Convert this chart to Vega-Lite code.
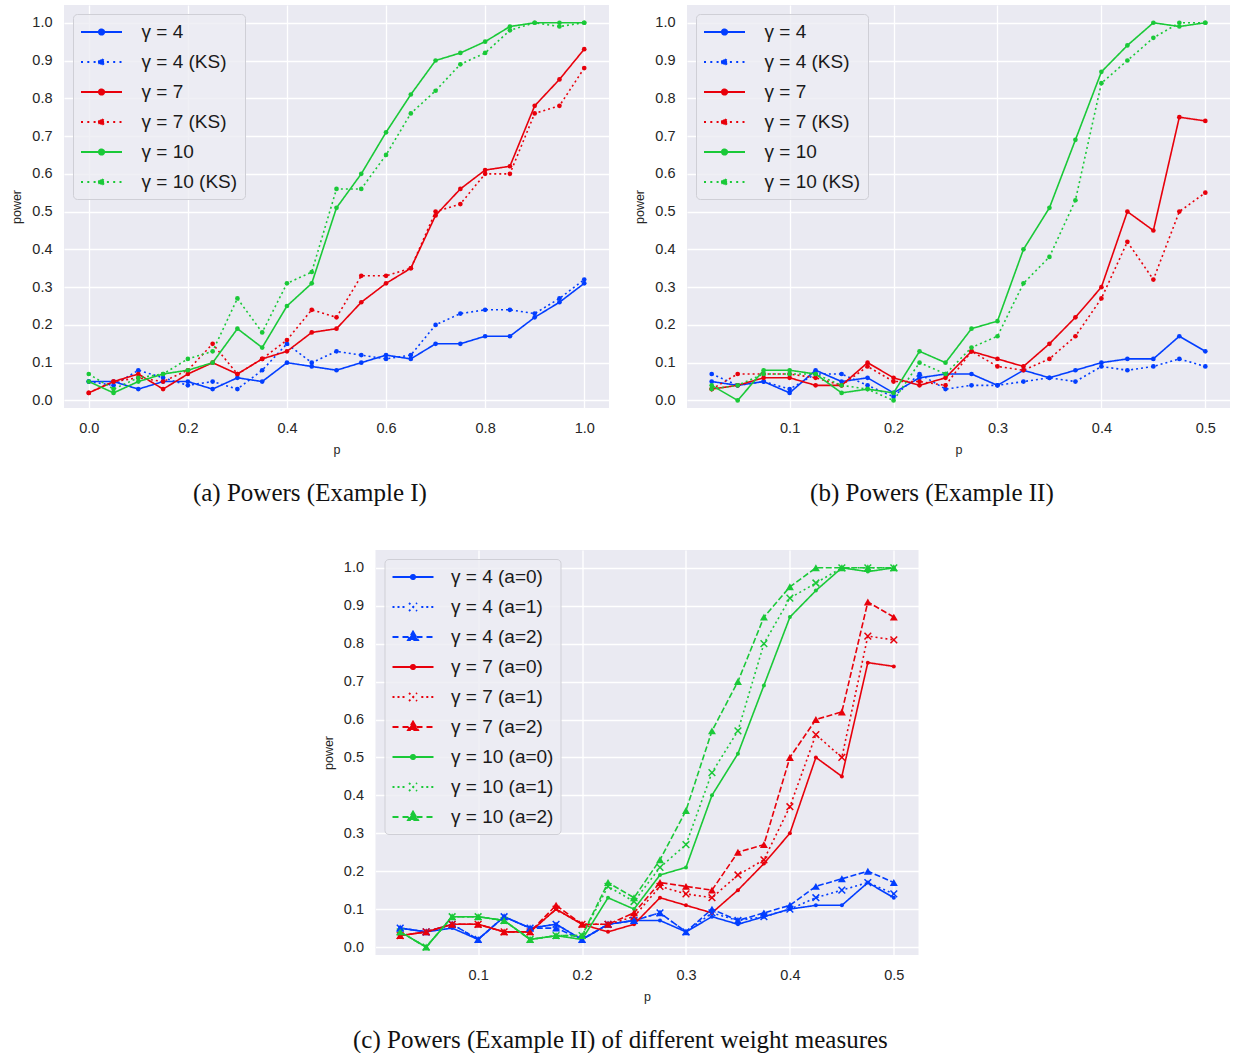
{
  "$schema": "https://vega.github.io/schema/vega-lite/v6.json",
  "padding": {"left": 10, "top": 5, "right": 0, "bottom": 0},
  "background": "white",
  "datasets": {
    "a": [
      {"p":0,"power":0.05,"series":"γ = 4"},{"p":0.05,"power":0.05,"series":"γ = 4"},{"p":0.1,"power":0.03,"series":"γ = 4"},{"p":0.15,"power":0.05,"series":"γ = 4"},{"p":0.2,"power":0.05,"series":"γ = 4"},{"p":0.25,"power":0.03,"series":"γ = 4"},{"p":0.3,"power":0.06,"series":"γ = 4"},{"p":0.35,"power":0.05,"series":"γ = 4"},{"p":0.4,"power":0.10,"series":"γ = 4"},{"p":0.45,"power":0.09,"series":"γ = 4"},{"p":0.5,"power":0.08,"series":"γ = 4"},{"p":0.55,"power":0.10,"series":"γ = 4"},{"p":0.6,"power":0.12,"series":"γ = 4"},{"p":0.65,"power":0.11,"series":"γ = 4"},{"p":0.7,"power":0.15,"series":"γ = 4"},{"p":0.75,"power":0.15,"series":"γ = 4"},{"p":0.8,"power":0.17,"series":"γ = 4"},{"p":0.85,"power":0.17,"series":"γ = 4"},{"p":0.9,"power":0.22,"series":"γ = 4"},{"p":0.95,"power":0.26,"series":"γ = 4"},{"p":1,"power":0.31,"series":"γ = 4"},
      {"p":0,"power":0.05,"series":"γ = 4 (KS)"},{"p":0.05,"power":0.04,"series":"γ = 4 (KS)"},{"p":0.1,"power":0.08,"series":"γ = 4 (KS)"},{"p":0.15,"power":0.06,"series":"γ = 4 (KS)"},{"p":0.2,"power":0.04,"series":"γ = 4 (KS)"},{"p":0.25,"power":0.05,"series":"γ = 4 (KS)"},{"p":0.3,"power":0.03,"series":"γ = 4 (KS)"},{"p":0.35,"power":0.08,"series":"γ = 4 (KS)"},{"p":0.4,"power":0.15,"series":"γ = 4 (KS)"},{"p":0.45,"power":0.10,"series":"γ = 4 (KS)"},{"p":0.5,"power":0.13,"series":"γ = 4 (KS)"},{"p":0.55,"power":0.12,"series":"γ = 4 (KS)"},{"p":0.6,"power":0.11,"series":"γ = 4 (KS)"},{"p":0.65,"power":0.12,"series":"γ = 4 (KS)"},{"p":0.7,"power":0.20,"series":"γ = 4 (KS)"},{"p":0.75,"power":0.23,"series":"γ = 4 (KS)"},{"p":0.8,"power":0.24,"series":"γ = 4 (KS)"},{"p":0.85,"power":0.24,"series":"γ = 4 (KS)"},{"p":0.9,"power":0.23,"series":"γ = 4 (KS)"},{"p":0.95,"power":0.27,"series":"γ = 4 (KS)"},{"p":1,"power":0.32,"series":"γ = 4 (KS)"},
      {"p":0,"power":0.02,"series":"γ = 7"},{"p":0.05,"power":0.05,"series":"γ = 7"},{"p":0.1,"power":0.07,"series":"γ = 7"},{"p":0.15,"power":0.03,"series":"γ = 7"},{"p":0.2,"power":0.07,"series":"γ = 7"},{"p":0.25,"power":0.10,"series":"γ = 7"},{"p":0.3,"power":0.07,"series":"γ = 7"},{"p":0.35,"power":0.11,"series":"γ = 7"},{"p":0.4,"power":0.13,"series":"γ = 7"},{"p":0.45,"power":0.18,"series":"γ = 7"},{"p":0.5,"power":0.19,"series":"γ = 7"},{"p":0.55,"power":0.26,"series":"γ = 7"},{"p":0.6,"power":0.31,"series":"γ = 7"},{"p":0.65,"power":0.35,"series":"γ = 7"},{"p":0.7,"power":0.49,"series":"γ = 7"},{"p":0.75,"power":0.56,"series":"γ = 7"},{"p":0.8,"power":0.61,"series":"γ = 7"},{"p":0.85,"power":0.62,"series":"γ = 7"},{"p":0.9,"power":0.78,"series":"γ = 7"},{"p":0.95,"power":0.85,"series":"γ = 7"},{"p":1,"power":0.93,"series":"γ = 7"},
      {"p":0,"power":0.02,"series":"γ = 7 (KS)"},{"p":0.05,"power":0.05,"series":"γ = 7 (KS)"},{"p":0.1,"power":0.06,"series":"γ = 7 (KS)"},{"p":0.15,"power":0.05,"series":"γ = 7 (KS)"},{"p":0.2,"power":0.08,"series":"γ = 7 (KS)"},{"p":0.25,"power":0.15,"series":"γ = 7 (KS)"},{"p":0.3,"power":0.07,"series":"γ = 7 (KS)"},{"p":0.35,"power":0.11,"series":"γ = 7 (KS)"},{"p":0.4,"power":0.16,"series":"γ = 7 (KS)"},{"p":0.45,"power":0.24,"series":"γ = 7 (KS)"},{"p":0.5,"power":0.22,"series":"γ = 7 (KS)"},{"p":0.55,"power":0.33,"series":"γ = 7 (KS)"},{"p":0.6,"power":0.33,"series":"γ = 7 (KS)"},{"p":0.65,"power":0.35,"series":"γ = 7 (KS)"},{"p":0.7,"power":0.50,"series":"γ = 7 (KS)"},{"p":0.75,"power":0.52,"series":"γ = 7 (KS)"},{"p":0.8,"power":0.60,"series":"γ = 7 (KS)"},{"p":0.85,"power":0.60,"series":"γ = 7 (KS)"},{"p":0.9,"power":0.76,"series":"γ = 7 (KS)"},{"p":0.95,"power":0.78,"series":"γ = 7 (KS)"},{"p":1,"power":0.88,"series":"γ = 7 (KS)"},
      {"p":0,"power":0.05,"series":"γ = 10"},{"p":0.05,"power":0.02,"series":"γ = 10"},{"p":0.1,"power":0.05,"series":"γ = 10"},{"p":0.15,"power":0.07,"series":"γ = 10"},{"p":0.2,"power":0.08,"series":"γ = 10"},{"p":0.25,"power":0.10,"series":"γ = 10"},{"p":0.3,"power":0.19,"series":"γ = 10"},{"p":0.35,"power":0.14,"series":"γ = 10"},{"p":0.4,"power":0.25,"series":"γ = 10"},{"p":0.45,"power":0.31,"series":"γ = 10"},{"p":0.5,"power":0.51,"series":"γ = 10"},{"p":0.55,"power":0.60,"series":"γ = 10"},{"p":0.6,"power":0.71,"series":"γ = 10"},{"p":0.65,"power":0.81,"series":"γ = 10"},{"p":0.7,"power":0.90,"series":"γ = 10"},{"p":0.75,"power":0.92,"series":"γ = 10"},{"p":0.8,"power":0.95,"series":"γ = 10"},{"p":0.85,"power":0.99,"series":"γ = 10"},{"p":0.9,"power":1.0,"series":"γ = 10"},{"p":0.95,"power":1.0,"series":"γ = 10"},{"p":1,"power":1.0,"series":"γ = 10"},
      {"p":0,"power":0.07,"series":"γ = 10 (KS)"},{"p":0.05,"power":0.03,"series":"γ = 10 (KS)"},{"p":0.1,"power":0.06,"series":"γ = 10 (KS)"},{"p":0.15,"power":0.07,"series":"γ = 10 (KS)"},{"p":0.2,"power":0.11,"series":"γ = 10 (KS)"},{"p":0.25,"power":0.13,"series":"γ = 10 (KS)"},{"p":0.3,"power":0.27,"series":"γ = 10 (KS)"},{"p":0.35,"power":0.18,"series":"γ = 10 (KS)"},{"p":0.4,"power":0.31,"series":"γ = 10 (KS)"},{"p":0.45,"power":0.34,"series":"γ = 10 (KS)"},{"p":0.5,"power":0.56,"series":"γ = 10 (KS)"},{"p":0.55,"power":0.56,"series":"γ = 10 (KS)"},{"p":0.6,"power":0.65,"series":"γ = 10 (KS)"},{"p":0.65,"power":0.76,"series":"γ = 10 (KS)"},{"p":0.7,"power":0.82,"series":"γ = 10 (KS)"},{"p":0.75,"power":0.89,"series":"γ = 10 (KS)"},{"p":0.8,"power":0.92,"series":"γ = 10 (KS)"},{"p":0.85,"power":0.98,"series":"γ = 10 (KS)"},{"p":0.9,"power":1.0,"series":"γ = 10 (KS)"},{"p":0.95,"power":0.99,"series":"γ = 10 (KS)"},{"p":1,"power":1.0,"series":"γ = 10 (KS)"}
    ],
    "b": [
      {"p":0.025,"power":0.05,"series":"γ = 4"},{"p":0.05,"power":0.04,"series":"γ = 4"},{"p":0.075,"power":0.05,"series":"γ = 4"},{"p":0.1,"power":0.02,"series":"γ = 4"},{"p":0.125,"power":0.08,"series":"γ = 4"},{"p":0.15,"power":0.05,"series":"γ = 4"},{"p":0.175,"power":0.06,"series":"γ = 4"},{"p":0.2,"power":0.02,"series":"γ = 4"},{"p":0.225,"power":0.06,"series":"γ = 4"},{"p":0.25,"power":0.07,"series":"γ = 4"},{"p":0.275,"power":0.07,"series":"γ = 4"},{"p":0.3,"power":0.04,"series":"γ = 4"},{"p":0.325,"power":0.08,"series":"γ = 4"},{"p":0.35,"power":0.06,"series":"γ = 4"},{"p":0.375,"power":0.08,"series":"γ = 4"},{"p":0.4,"power":0.10,"series":"γ = 4"},{"p":0.425,"power":0.11,"series":"γ = 4"},{"p":0.45,"power":0.11,"series":"γ = 4"},{"p":0.475,"power":0.17,"series":"γ = 4"},{"p":0.5,"power":0.13,"series":"γ = 4"},
      {"p":0.025,"power":0.07,"series":"γ = 4 (KS)"},{"p":0.05,"power":0.04,"series":"γ = 4 (KS)"},{"p":0.075,"power":0.05,"series":"γ = 4 (KS)"},{"p":0.1,"power":0.03,"series":"γ = 4 (KS)"},{"p":0.125,"power":0.07,"series":"γ = 4 (KS)"},{"p":0.15,"power":0.07,"series":"γ = 4 (KS)"},{"p":0.175,"power":0.04,"series":"γ = 4 (KS)"},{"p":0.2,"power":0.01,"series":"γ = 4 (KS)"},{"p":0.225,"power":0.07,"series":"γ = 4 (KS)"},{"p":0.25,"power":0.03,"series":"γ = 4 (KS)"},{"p":0.275,"power":0.04,"series":"γ = 4 (KS)"},{"p":0.3,"power":0.04,"series":"γ = 4 (KS)"},{"p":0.325,"power":0.05,"series":"γ = 4 (KS)"},{"p":0.35,"power":0.06,"series":"γ = 4 (KS)"},{"p":0.375,"power":0.05,"series":"γ = 4 (KS)"},{"p":0.4,"power":0.09,"series":"γ = 4 (KS)"},{"p":0.425,"power":0.08,"series":"γ = 4 (KS)"},{"p":0.45,"power":0.09,"series":"γ = 4 (KS)"},{"p":0.475,"power":0.11,"series":"γ = 4 (KS)"},{"p":0.5,"power":0.09,"series":"γ = 4 (KS)"},
      {"p":0.025,"power":0.03,"series":"γ = 7"},{"p":0.05,"power":0.04,"series":"γ = 7"},{"p":0.075,"power":0.06,"series":"γ = 7"},{"p":0.1,"power":0.06,"series":"γ = 7"},{"p":0.125,"power":0.04,"series":"γ = 7"},{"p":0.15,"power":0.04,"series":"γ = 7"},{"p":0.175,"power":0.10,"series":"γ = 7"},{"p":0.2,"power":0.06,"series":"γ = 7"},{"p":0.225,"power":0.04,"series":"γ = 7"},{"p":0.25,"power":0.06,"series":"γ = 7"},{"p":0.275,"power":0.13,"series":"γ = 7"},{"p":0.3,"power":0.11,"series":"γ = 7"},{"p":0.325,"power":0.09,"series":"γ = 7"},{"p":0.35,"power":0.15,"series":"γ = 7"},{"p":0.375,"power":0.22,"series":"γ = 7"},{"p":0.4,"power":0.30,"series":"γ = 7"},{"p":0.425,"power":0.50,"series":"γ = 7"},{"p":0.45,"power":0.45,"series":"γ = 7"},{"p":0.475,"power":0.75,"series":"γ = 7"},{"p":0.5,"power":0.74,"series":"γ = 7"},
      {"p":0.025,"power":0.03,"series":"γ = 7 (KS)"},{"p":0.05,"power":0.07,"series":"γ = 7 (KS)"},{"p":0.075,"power":0.07,"series":"γ = 7 (KS)"},{"p":0.1,"power":0.07,"series":"γ = 7 (KS)"},{"p":0.125,"power":0.06,"series":"γ = 7 (KS)"},{"p":0.15,"power":0.04,"series":"γ = 7 (KS)"},{"p":0.175,"power":0.09,"series":"γ = 7 (KS)"},{"p":0.2,"power":0.05,"series":"γ = 7 (KS)"},{"p":0.225,"power":0.05,"series":"γ = 7 (KS)"},{"p":0.25,"power":0.04,"series":"γ = 7 (KS)"},{"p":0.275,"power":0.13,"series":"γ = 7 (KS)"},{"p":0.3,"power":0.09,"series":"γ = 7 (KS)"},{"p":0.325,"power":0.08,"series":"γ = 7 (KS)"},{"p":0.35,"power":0.11,"series":"γ = 7 (KS)"},{"p":0.375,"power":0.17,"series":"γ = 7 (KS)"},{"p":0.4,"power":0.27,"series":"γ = 7 (KS)"},{"p":0.425,"power":0.42,"series":"γ = 7 (KS)"},{"p":0.45,"power":0.32,"series":"γ = 7 (KS)"},{"p":0.475,"power":0.50,"series":"γ = 7 (KS)"},{"p":0.5,"power":0.55,"series":"γ = 7 (KS)"},
      {"p":0.025,"power":0.04,"series":"γ = 10"},{"p":0.05,"power":0.00,"series":"γ = 10"},{"p":0.075,"power":0.08,"series":"γ = 10"},{"p":0.1,"power":0.08,"series":"γ = 10"},{"p":0.125,"power":0.07,"series":"γ = 10"},{"p":0.15,"power":0.02,"series":"γ = 10"},{"p":0.175,"power":0.03,"series":"γ = 10"},{"p":0.2,"power":0.02,"series":"γ = 10"},{"p":0.225,"power":0.13,"series":"γ = 10"},{"p":0.25,"power":0.10,"series":"γ = 10"},{"p":0.275,"power":0.19,"series":"γ = 10"},{"p":0.3,"power":0.21,"series":"γ = 10"},{"p":0.325,"power":0.40,"series":"γ = 10"},{"p":0.35,"power":0.51,"series":"γ = 10"},{"p":0.375,"power":0.69,"series":"γ = 10"},{"p":0.4,"power":0.87,"series":"γ = 10"},{"p":0.425,"power":0.94,"series":"γ = 10"},{"p":0.45,"power":1.0,"series":"γ = 10"},{"p":0.475,"power":0.99,"series":"γ = 10"},{"p":0.5,"power":1.0,"series":"γ = 10"},
      {"p":0.025,"power":0.03,"series":"γ = 10 (KS)"},{"p":0.05,"power":0.04,"series":"γ = 10 (KS)"},{"p":0.075,"power":0.07,"series":"γ = 10 (KS)"},{"p":0.1,"power":0.07,"series":"γ = 10 (KS)"},{"p":0.125,"power":0.07,"series":"γ = 10 (KS)"},{"p":0.15,"power":0.04,"series":"γ = 10 (KS)"},{"p":0.175,"power":0.03,"series":"γ = 10 (KS)"},{"p":0.2,"power":0.00,"series":"γ = 10 (KS)"},{"p":0.225,"power":0.10,"series":"γ = 10 (KS)"},{"p":0.25,"power":0.07,"series":"γ = 10 (KS)"},{"p":0.275,"power":0.14,"series":"γ = 10 (KS)"},{"p":0.3,"power":0.17,"series":"γ = 10 (KS)"},{"p":0.325,"power":0.31,"series":"γ = 10 (KS)"},{"p":0.35,"power":0.38,"series":"γ = 10 (KS)"},{"p":0.375,"power":0.53,"series":"γ = 10 (KS)"},{"p":0.4,"power":0.84,"series":"γ = 10 (KS)"},{"p":0.425,"power":0.90,"series":"γ = 10 (KS)"},{"p":0.45,"power":0.96,"series":"γ = 10 (KS)"},{"p":0.475,"power":1.0,"series":"γ = 10 (KS)"},{"p":0.5,"power":1.0,"series":"γ = 10 (KS)"}
    ],
    "c": [
      {"p":0.025,"power":0.05,"series":"γ = 4 (a=0)"},{"p":0.05,"power":0.04,"series":"γ = 4 (a=0)"},{"p":0.075,"power":0.05,"series":"γ = 4 (a=0)"},{"p":0.1,"power":0.02,"series":"γ = 4 (a=0)"},{"p":0.125,"power":0.08,"series":"γ = 4 (a=0)"},{"p":0.15,"power":0.05,"series":"γ = 4 (a=0)"},{"p":0.175,"power":0.06,"series":"γ = 4 (a=0)"},{"p":0.2,"power":0.02,"series":"γ = 4 (a=0)"},{"p":0.225,"power":0.06,"series":"γ = 4 (a=0)"},{"p":0.25,"power":0.07,"series":"γ = 4 (a=0)"},{"p":0.275,"power":0.07,"series":"γ = 4 (a=0)"},{"p":0.3,"power":0.04,"series":"γ = 4 (a=0)"},{"p":0.325,"power":0.08,"series":"γ = 4 (a=0)"},{"p":0.35,"power":0.06,"series":"γ = 4 (a=0)"},{"p":0.375,"power":0.08,"series":"γ = 4 (a=0)"},{"p":0.4,"power":0.10,"series":"γ = 4 (a=0)"},{"p":0.425,"power":0.11,"series":"γ = 4 (a=0)"},{"p":0.45,"power":0.11,"series":"γ = 4 (a=0)"},{"p":0.475,"power":0.17,"series":"γ = 4 (a=0)"},{"p":0.5,"power":0.13,"series":"γ = 4 (a=0)"},
      {"p":0.025,"power":0.05,"series":"γ = 4 (a=1)"},{"p":0.05,"power":0.04,"series":"γ = 4 (a=1)"},{"p":0.075,"power":0.06,"series":"γ = 4 (a=1)"},{"p":0.1,"power":0.02,"series":"γ = 4 (a=1)"},{"p":0.125,"power":0.08,"series":"γ = 4 (a=1)"},{"p":0.15,"power":0.05,"series":"γ = 4 (a=1)"},{"p":0.175,"power":0.06,"series":"γ = 4 (a=1)"},{"p":0.2,"power":0.02,"series":"γ = 4 (a=1)"},{"p":0.225,"power":0.06,"series":"γ = 4 (a=1)"},{"p":0.25,"power":0.07,"series":"γ = 4 (a=1)"},{"p":0.275,"power":0.09,"series":"γ = 4 (a=1)"},{"p":0.3,"power":0.04,"series":"γ = 4 (a=1)"},{"p":0.325,"power":0.09,"series":"γ = 4 (a=1)"},{"p":0.35,"power":0.07,"series":"γ = 4 (a=1)"},{"p":0.375,"power":0.08,"series":"γ = 4 (a=1)"},{"p":0.4,"power":0.10,"series":"γ = 4 (a=1)"},{"p":0.425,"power":0.13,"series":"γ = 4 (a=1)"},{"p":0.45,"power":0.15,"series":"γ = 4 (a=1)"},{"p":0.475,"power":0.17,"series":"γ = 4 (a=1)"},{"p":0.5,"power":0.14,"series":"γ = 4 (a=1)"},
      {"p":0.025,"power":0.05,"series":"γ = 4 (a=2)"},{"p":0.05,"power":0.04,"series":"γ = 4 (a=2)"},{"p":0.075,"power":0.06,"series":"γ = 4 (a=2)"},{"p":0.1,"power":0.02,"series":"γ = 4 (a=2)"},{"p":0.125,"power":0.08,"series":"γ = 4 (a=2)"},{"p":0.15,"power":0.05,"series":"γ = 4 (a=2)"},{"p":0.175,"power":0.05,"series":"γ = 4 (a=2)"},{"p":0.2,"power":0.02,"series":"γ = 4 (a=2)"},{"p":0.225,"power":0.06,"series":"γ = 4 (a=2)"},{"p":0.25,"power":0.07,"series":"γ = 4 (a=2)"},{"p":0.275,"power":0.09,"series":"γ = 4 (a=2)"},{"p":0.3,"power":0.04,"series":"γ = 4 (a=2)"},{"p":0.325,"power":0.10,"series":"γ = 4 (a=2)"},{"p":0.35,"power":0.07,"series":"γ = 4 (a=2)"},{"p":0.375,"power":0.09,"series":"γ = 4 (a=2)"},{"p":0.4,"power":0.11,"series":"γ = 4 (a=2)"},{"p":0.425,"power":0.16,"series":"γ = 4 (a=2)"},{"p":0.45,"power":0.18,"series":"γ = 4 (a=2)"},{"p":0.475,"power":0.20,"series":"γ = 4 (a=2)"},{"p":0.5,"power":0.17,"series":"γ = 4 (a=2)"},
      {"p":0.025,"power":0.03,"series":"γ = 7 (a=0)"},{"p":0.05,"power":0.04,"series":"γ = 7 (a=0)"},{"p":0.075,"power":0.06,"series":"γ = 7 (a=0)"},{"p":0.1,"power":0.06,"series":"γ = 7 (a=0)"},{"p":0.125,"power":0.04,"series":"γ = 7 (a=0)"},{"p":0.15,"power":0.04,"series":"γ = 7 (a=0)"},{"p":0.175,"power":0.10,"series":"γ = 7 (a=0)"},{"p":0.2,"power":0.06,"series":"γ = 7 (a=0)"},{"p":0.225,"power":0.04,"series":"γ = 7 (a=0)"},{"p":0.25,"power":0.06,"series":"γ = 7 (a=0)"},{"p":0.275,"power":0.13,"series":"γ = 7 (a=0)"},{"p":0.3,"power":0.11,"series":"γ = 7 (a=0)"},{"p":0.325,"power":0.09,"series":"γ = 7 (a=0)"},{"p":0.35,"power":0.15,"series":"γ = 7 (a=0)"},{"p":0.375,"power":0.22,"series":"γ = 7 (a=0)"},{"p":0.4,"power":0.30,"series":"γ = 7 (a=0)"},{"p":0.425,"power":0.50,"series":"γ = 7 (a=0)"},{"p":0.45,"power":0.45,"series":"γ = 7 (a=0)"},{"p":0.475,"power":0.75,"series":"γ = 7 (a=0)"},{"p":0.5,"power":0.74,"series":"γ = 7 (a=0)"},
      {"p":0.025,"power":0.03,"series":"γ = 7 (a=1)"},{"p":0.05,"power":0.04,"series":"γ = 7 (a=1)"},{"p":0.075,"power":0.06,"series":"γ = 7 (a=1)"},{"p":0.1,"power":0.06,"series":"γ = 7 (a=1)"},{"p":0.125,"power":0.04,"series":"γ = 7 (a=1)"},{"p":0.15,"power":0.04,"series":"γ = 7 (a=1)"},{"p":0.175,"power":0.10,"series":"γ = 7 (a=1)"},{"p":0.2,"power":0.06,"series":"γ = 7 (a=1)"},{"p":0.225,"power":0.06,"series":"γ = 7 (a=1)"},{"p":0.25,"power":0.08,"series":"γ = 7 (a=1)"},{"p":0.275,"power":0.16,"series":"γ = 7 (a=1)"},{"p":0.3,"power":0.14,"series":"γ = 7 (a=1)"},{"p":0.325,"power":0.13,"series":"γ = 7 (a=1)"},{"p":0.35,"power":0.19,"series":"γ = 7 (a=1)"},{"p":0.375,"power":0.23,"series":"γ = 7 (a=1)"},{"p":0.4,"power":0.37,"series":"γ = 7 (a=1)"},{"p":0.425,"power":0.56,"series":"γ = 7 (a=1)"},{"p":0.45,"power":0.50,"series":"γ = 7 (a=1)"},{"p":0.475,"power":0.82,"series":"γ = 7 (a=1)"},{"p":0.5,"power":0.81,"series":"γ = 7 (a=1)"},
      {"p":0.025,"power":0.03,"series":"γ = 7 (a=2)"},{"p":0.05,"power":0.04,"series":"γ = 7 (a=2)"},{"p":0.075,"power":0.06,"series":"γ = 7 (a=2)"},{"p":0.1,"power":0.06,"series":"γ = 7 (a=2)"},{"p":0.125,"power":0.04,"series":"γ = 7 (a=2)"},{"p":0.15,"power":0.04,"series":"γ = 7 (a=2)"},{"p":0.175,"power":0.11,"series":"γ = 7 (a=2)"},{"p":0.2,"power":0.06,"series":"γ = 7 (a=2)"},{"p":0.225,"power":0.06,"series":"γ = 7 (a=2)"},{"p":0.25,"power":0.09,"series":"γ = 7 (a=2)"},{"p":0.275,"power":0.17,"series":"γ = 7 (a=2)"},{"p":0.3,"power":0.16,"series":"γ = 7 (a=2)"},{"p":0.325,"power":0.15,"series":"γ = 7 (a=2)"},{"p":0.35,"power":0.25,"series":"γ = 7 (a=2)"},{"p":0.375,"power":0.27,"series":"γ = 7 (a=2)"},{"p":0.4,"power":0.50,"series":"γ = 7 (a=2)"},{"p":0.425,"power":0.60,"series":"γ = 7 (a=2)"},{"p":0.45,"power":0.62,"series":"γ = 7 (a=2)"},{"p":0.475,"power":0.91,"series":"γ = 7 (a=2)"},{"p":0.5,"power":0.87,"series":"γ = 7 (a=2)"},
      {"p":0.025,"power":0.04,"series":"γ = 10 (a=0)"},{"p":0.05,"power":0.00,"series":"γ = 10 (a=0)"},{"p":0.075,"power":0.08,"series":"γ = 10 (a=0)"},{"p":0.1,"power":0.08,"series":"γ = 10 (a=0)"},{"p":0.125,"power":0.07,"series":"γ = 10 (a=0)"},{"p":0.15,"power":0.02,"series":"γ = 10 (a=0)"},{"p":0.175,"power":0.03,"series":"γ = 10 (a=0)"},{"p":0.2,"power":0.02,"series":"γ = 10 (a=0)"},{"p":0.225,"power":0.13,"series":"γ = 10 (a=0)"},{"p":0.25,"power":0.10,"series":"γ = 10 (a=0)"},{"p":0.275,"power":0.19,"series":"γ = 10 (a=0)"},{"p":0.3,"power":0.21,"series":"γ = 10 (a=0)"},{"p":0.325,"power":0.40,"series":"γ = 10 (a=0)"},{"p":0.35,"power":0.51,"series":"γ = 10 (a=0)"},{"p":0.375,"power":0.69,"series":"γ = 10 (a=0)"},{"p":0.4,"power":0.87,"series":"γ = 10 (a=0)"},{"p":0.425,"power":0.94,"series":"γ = 10 (a=0)"},{"p":0.45,"power":1.0,"series":"γ = 10 (a=0)"},{"p":0.475,"power":0.99,"series":"γ = 10 (a=0)"},{"p":0.5,"power":1.0,"series":"γ = 10 (a=0)"},
      {"p":0.025,"power":0.04,"series":"γ = 10 (a=1)"},{"p":0.05,"power":0.00,"series":"γ = 10 (a=1)"},{"p":0.075,"power":0.08,"series":"γ = 10 (a=1)"},{"p":0.1,"power":0.08,"series":"γ = 10 (a=1)"},{"p":0.125,"power":0.07,"series":"γ = 10 (a=1)"},{"p":0.15,"power":0.02,"series":"γ = 10 (a=1)"},{"p":0.175,"power":0.03,"series":"γ = 10 (a=1)"},{"p":0.2,"power":0.03,"series":"γ = 10 (a=1)"},{"p":0.225,"power":0.16,"series":"γ = 10 (a=1)"},{"p":0.25,"power":0.12,"series":"γ = 10 (a=1)"},{"p":0.275,"power":0.21,"series":"γ = 10 (a=1)"},{"p":0.3,"power":0.27,"series":"γ = 10 (a=1)"},{"p":0.325,"power":0.46,"series":"γ = 10 (a=1)"},{"p":0.35,"power":0.57,"series":"γ = 10 (a=1)"},{"p":0.375,"power":0.80,"series":"γ = 10 (a=1)"},{"p":0.4,"power":0.92,"series":"γ = 10 (a=1)"},{"p":0.425,"power":0.96,"series":"γ = 10 (a=1)"},{"p":0.45,"power":1.0,"series":"γ = 10 (a=1)"},{"p":0.475,"power":1.0,"series":"γ = 10 (a=1)"},{"p":0.5,"power":1.0,"series":"γ = 10 (a=1)"},
      {"p":0.025,"power":0.04,"series":"γ = 10 (a=2)"},{"p":0.05,"power":0.00,"series":"γ = 10 (a=2)"},{"p":0.075,"power":0.08,"series":"γ = 10 (a=2)"},{"p":0.1,"power":0.08,"series":"γ = 10 (a=2)"},{"p":0.125,"power":0.07,"series":"γ = 10 (a=2)"},{"p":0.15,"power":0.02,"series":"γ = 10 (a=2)"},{"p":0.175,"power":0.03,"series":"γ = 10 (a=2)"},{"p":0.2,"power":0.03,"series":"γ = 10 (a=2)"},{"p":0.225,"power":0.17,"series":"γ = 10 (a=2)"},{"p":0.25,"power":0.13,"series":"γ = 10 (a=2)"},{"p":0.275,"power":0.23,"series":"γ = 10 (a=2)"},{"p":0.3,"power":0.36,"series":"γ = 10 (a=2)"},{"p":0.325,"power":0.57,"series":"γ = 10 (a=2)"},{"p":0.35,"power":0.70,"series":"γ = 10 (a=2)"},{"p":0.375,"power":0.87,"series":"γ = 10 (a=2)"},{"p":0.4,"power":0.95,"series":"γ = 10 (a=2)"},{"p":0.425,"power":1.0,"series":"γ = 10 (a=2)"},{"p":0.45,"power":1.0,"series":"γ = 10 (a=2)"},{"p":0.475,"power":1.0,"series":"γ = 10 (a=2)"},{"p":0.5,"power":1.0,"series":"γ = 10 (a=2)"}
    ]
  },
  "vconcat": [
    {
      "hconcat": [
        {
          "width": 545, "height": 403,
          "data": {"name": "a"},
          "title": {"text": "(a) Powers (Example I)"},
          "encoding": {
            "x": {"field": "p", "type": "quantitative", "title": "p", "scale": {"domain": [-0.05, 1.05], "nice": false, "zero": false}, "axis": {"values": [0, 0.2, 0.4, 0.6, 0.8, 1.0], "format": ".1f"}},
            "y": {"field": "power", "type": "quantitative", "title": "power", "scale": {"domain": [-0.02, 1.047], "nice": false, "zero": false}, "axis": {"values": [0, 0.1, 0.2, 0.3, 0.4, 0.5, 0.6, 0.7, 0.8, 0.9, 1.0], "format": ".1f"}},
            "color": {"field": "series", "type": "nominal", "scale": {"domain": ["γ = 4", "γ = 4 (KS)", "γ = 7", "γ = 7 (KS)", "γ = 10", "γ = 10 (KS)"], "range": ["#023eff", "#023eff", "#e8000b", "#e8000b", "#1ac938", "#1ac938"]},
              "legend": {"labelOffset": 29, "encode": {"symbols": {"update": {
                "shape": {"signal": "indexof(datum.value,'KS')>=0 ? 'M-2.05,0h0.25M-1.42,0h0.25M-0.79,0h0.25M0.54,0h0.25M1.17,0h0.25M1.8,0h0.25M-0.27,0A0.27,0.27,0,1,0,0.27,0A0.27,0.27,0,1,0,-0.27,0Z' : 'M-2.05,0L2.05,0M-0.27,0A0.27,0.27,0,1,0,0.27,0A0.27,0.27,0,1,0,-0.27,0Z'"},
                "fill": {"signal": "indexof(datum.value,'= 4')>=0 ? '#023eff' : indexof(datum.value,'= 7')>=0 ? '#e8000b' : '#1ac938'"},
                "stroke": {"signal": "indexof(datum.value,'= 4')>=0 ? '#023eff' : indexof(datum.value,'= 7')>=0 ? '#e8000b' : '#1ac938'"},
                "strokeDash": {"value": []}, "strokeWidth": {"value": 1.8}, "opacity": {"value": 1}}}}}}
          },
          "layer": [
            {"mark": {"type": "line", "strokeWidth": 1.6}, "encoding": {"strokeDash": {"field": "series", "type": "nominal", "scale": {"domain": ["γ = 4", "γ = 4 (KS)", "γ = 7", "γ = 7 (KS)", "γ = 10", "γ = 10 (KS)"], "range": [[1, 0], [2, 3], [1, 0], [2, 3], [1, 0], [2, 3]]}, "legend": null}}},
            {"mark": {"type": "point", "filled": true, "shape": "circle", "size": 22, "opacity": 1}}
          ]
        },
        {
          "width": 543, "height": 403,
          "data": {"name": "b"},
          "title": {"text": "(b) Powers (Example II)"},
          "encoding": {
            "x": {"field": "p", "type": "quantitative", "title": "p", "scale": {"domain": [0.00125, 0.52375], "nice": false, "zero": false}, "axis": {"values": [0.1, 0.2, 0.3, 0.4, 0.5], "format": ".1f"}},
            "y": {"field": "power", "type": "quantitative", "title": "power", "scale": {"domain": [-0.02, 1.047], "nice": false, "zero": false}, "axis": {"values": [0, 0.1, 0.2, 0.3, 0.4, 0.5, 0.6, 0.7, 0.8, 0.9, 1.0], "format": ".1f"}},
            "color": {"field": "series", "type": "nominal", "scale": {"domain": ["γ = 4", "γ = 4 (KS)", "γ = 7", "γ = 7 (KS)", "γ = 10", "γ = 10 (KS)"], "range": ["#023eff", "#023eff", "#e8000b", "#e8000b", "#1ac938", "#1ac938"]},
              "legend": {"labelOffset": 29, "encode": {"symbols": {"update": {
                "shape": {"signal": "indexof(datum.value,'KS')>=0 ? 'M-2.05,0h0.25M-1.42,0h0.25M-0.79,0h0.25M0.54,0h0.25M1.17,0h0.25M1.8,0h0.25M-0.27,0A0.27,0.27,0,1,0,0.27,0A0.27,0.27,0,1,0,-0.27,0Z' : 'M-2.05,0L2.05,0M-0.27,0A0.27,0.27,0,1,0,0.27,0A0.27,0.27,0,1,0,-0.27,0Z'"},
                "fill": {"signal": "indexof(datum.value,'= 4')>=0 ? '#023eff' : indexof(datum.value,'= 7')>=0 ? '#e8000b' : '#1ac938'"},
                "stroke": {"signal": "indexof(datum.value,'= 4')>=0 ? '#023eff' : indexof(datum.value,'= 7')>=0 ? '#e8000b' : '#1ac938'"},
                "strokeDash": {"value": []}, "strokeWidth": {"value": 1.8}, "opacity": {"value": 1}}}}}}
          },
          "layer": [
            {"mark": {"type": "line", "strokeWidth": 1.6}, "encoding": {"strokeDash": {"field": "series", "type": "nominal", "scale": {"domain": ["γ = 4", "γ = 4 (KS)", "γ = 7", "γ = 7 (KS)", "γ = 10", "γ = 10 (KS)"], "range": [[1, 0], [2, 3], [1, 0], [2, 3], [1, 0], [2, 3]]}, "legend": null}}},
            {"mark": {"type": "point", "filled": true, "shape": "circle", "size": 22, "opacity": 1}}
          ]
        }
      ],
      "spacing": 24,
      "resolve": {"scale": {"color": "independent", "strokeDash": "independent"}, "legend": {"color": "independent", "strokeDash": "independent"}}
    },
    {
      "width": 543, "height": 405,
      "data": {"name": "c"},
      "title": {"text": "(c) Powers (Example II) of different weight measures"},
      "encoding": {
        "x": {"field": "p", "type": "quantitative", "title": "p", "scale": {"domain": [0.00125, 0.52375], "nice": false, "zero": false}, "axis": {"values": [0.1, 0.2, 0.3, 0.4, 0.5], "format": ".1f"}},
        "y": {"field": "power", "type": "quantitative", "title": "power", "scale": {"domain": [-0.021, 1.047], "nice": false, "zero": false}, "axis": {"values": [0, 0.1, 0.2, 0.3, 0.4, 0.5, 0.6, 0.7, 0.8, 0.9, 1.0], "format": ".1f"}},
        "color": {"field": "series", "type": "nominal", "scale": {"domain": ["γ = 4 (a=0)", "γ = 4 (a=1)", "γ = 4 (a=2)", "γ = 7 (a=0)", "γ = 7 (a=1)", "γ = 7 (a=2)", "γ = 10 (a=0)", "γ = 10 (a=1)", "γ = 10 (a=2)"], "range": ["#023eff", "#023eff", "#023eff", "#e8000b", "#e8000b", "#e8000b", "#1ac938", "#1ac938", "#1ac938"]},
          "legend": {"labelOffset": 27, "encode": {"symbols": {"update": {
            "shape": {"signal": "indexof(datum.value,'a=0')>=0 ? 'M-2.05,0L2.05,0M-0.22,0A0.22,0.22,0,1,0,0.22,0A0.22,0.22,0,1,0,-0.22,0Z' : indexof(datum.value,'a=1')>=0 ? 'M-2.05,0h0.22M-1.55,0h0.22M-1.05,0h0.22M0.83,0h0.22M1.33,0h0.22M1.83,0h0.22M-0.4,-0.4L0.4,0.4M-0.4,0.4L0.4,-0.4' : 'M-2.05,0h0.7M-1.05,0h0.7M0.35,0h0.7M1.35,0h0.7M0,-0.55L0.5,0.3L-0.5,0.3Z'"},
            "fill": {"signal": "indexof(datum.value,'= 4')>=0 ? '#023eff' : indexof(datum.value,'= 7')>=0 ? '#e8000b' : '#1ac938'"},
            "stroke": {"signal": "indexof(datum.value,'= 4')>=0 ? '#023eff' : indexof(datum.value,'= 7')>=0 ? '#e8000b' : '#1ac938'"},
            "strokeDash": {"value": []}, "strokeWidth": {"value": 1.8}, "opacity": {"value": 1}}}}}}
      },
      "layer": [
        {"mark": {"type": "line", "strokeWidth": 1.6}, "encoding": {"strokeDash": {"field": "series", "type": "nominal", "scale": {"domain": ["γ = 4 (a=0)", "γ = 4 (a=1)", "γ = 4 (a=2)", "γ = 7 (a=0)", "γ = 7 (a=1)", "γ = 7 (a=2)", "γ = 10 (a=0)", "γ = 10 (a=1)", "γ = 10 (a=2)"], "range": [[1, 0], [2, 3], [6, 2.5], [1, 0], [2, 3], [6, 2.5], [1, 0], [2, 3], [6, 2.5]]}, "legend": null}}},
        {"transform": [{"filter": {"field": "series", "oneOf": ["γ = 4 (a=0)", "γ = 7 (a=0)", "γ = 10 (a=0)"]}}], "mark": {"type": "point", "filled": true, "shape": "circle", "size": 16, "opacity": 1}},
        {"transform": [{"filter": {"field": "series", "oneOf": ["γ = 4 (a=1)", "γ = 7 (a=1)", "γ = 10 (a=1)"]}}], "mark": {"type": "point", "filled": false, "shape": "M-1,-1L1,1M-1,1L1,-1", "size": 45, "strokeWidth": 1.5, "opacity": 1}},
        {"transform": [{"filter": {"field": "series", "oneOf": ["γ = 4 (a=2)", "γ = 7 (a=2)", "γ = 10 (a=2)"]}}], "mark": {"type": "point", "filled": true, "shape": "triangle-up", "size": 64, "opacity": 1}}
      ]
    }
  ],
  "spacing": 44,
  "center": true,
  "resolve": {"scale": {"color": "independent", "strokeDash": "independent"}, "legend": {"color": "independent", "strokeDash": "independent"}},
  "config": {
    "view": {"fill": "#eaeaf2", "stroke": null},
    "axis": {"grid": true, "gridColor": "#ffffff", "gridWidth": 1.3, "gridOpacity": 1, "domain": false, "ticks": false, "labelFont": "Liberation Sans", "labelFontSize": 14.5, "labelColor": "#262626", "titleFont": "Liberation Sans", "titleFontSize": 12.5, "titleFontWeight": "normal", "titleColor": "#262626"},
    "axisX": {"labelPadding": 13, "titlePadding": 9},
    "axisY": {"labelPadding": 12, "titlePadding": 8},
    "legend": {"orient": "top-left", "offset": 9, "title": null, "labelFont": "Liberation Sans", "labelFontSize": 19, "labelColor": "#1a1a1a", "symbolSize": 400, "symbolOffset": 10.5, "rowPadding": 9, "padding": 7, "fillColor": "rgba(236,236,243,0.8)", "strokeColor": "#cfcfd6", "cornerRadius": 4, "symbolLimit": 0, "labelLimit": 300},
    "title": {"orient": "bottom", "anchor": "middle", "frame": "bounds", "font": "Liberation Serif", "fontSize": 25, "fontWeight": "normal", "color": "#111111", "offset": 25}
  }
}
